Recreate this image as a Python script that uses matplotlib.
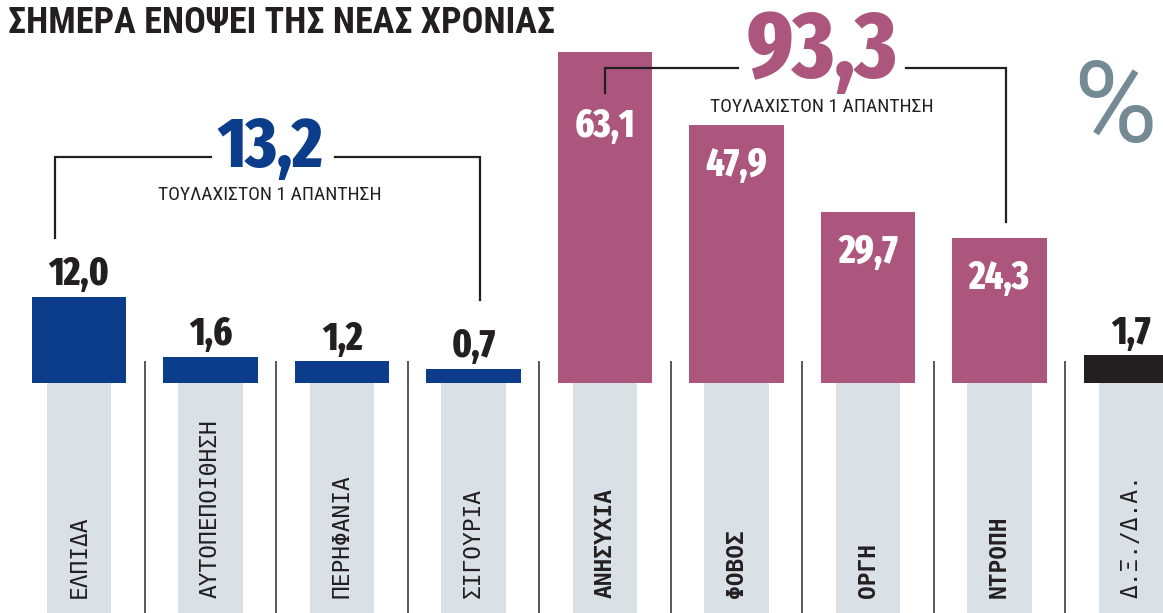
import numpy as np
import matplotlib.pyplot as plt

# ---- data -------------------------------------------------------------
categories = ["ΕΛΠΙΔΑ", "ΑΥΤΟΠΕΠΟΙΘΗΣΗ", "ΠΕΡΗΦΑΝΙΑ", "ΣΙΓΟΥΡΙΑ",
              "ΑΝΗΣΥΧΙΑ", "ΦΟΒΟΣ", "ΟΡΓΗ", "ΝΤΡΟΠΗ", "Δ.Ξ./Δ.Α."]
values = [12.0, 1.6, 1.2, 0.7, 63.1, 47.9, 29.7, 24.3, 1.7]
groups = ["positive"] * 4 + ["negative"] * 4 + ["dk"]
group_totals = {"positive": 13.2, "negative": 93.3}
total_caption = "ΤΟΥΛΑΧΙΣΤΟΝ 1 ΑΠΑΝΤΗΣΗ"
title = "ΣΗΜΕΡΑ ΕΝΟΨΕΙ ΤΗΣ ΝΕΑΣ ΧΡΟΝΙΑΣ"

# ---- style ------------------------------------------------------------
COLORS = {"positive": "#0b3d8a", "negative": "#ad567d", "dk": "#231f20"}
STRIP = "#d9e0e6"
INK = "#231f20"
COND = ["Roboto Condensed", "DejaVu Sans"]
NUMS = ["Fira Sans Extra Condensed", "Roboto Condensed", "DejaVu Sans"]
MONO = ["DejaVu Sans Mono", "DejaVu Sans"]


def fmt(v):
    return f"{v:.1f}".replace(".", ",")


# the printed bars are not strictly proportional: small bars get a little
# padding. mimic that with a soft-offset function scale
def fwd(v):
    v = np.asarray(v, dtype=float)
    return np.where(v > 0, v + 6 * (1 - np.exp(-np.clip(v, 0, None) / 1.5)), 5 * v)


_grid = np.linspace(-10, 300, 8000)


def inv(y):
    return np.interp(y, fwd(_grid), _grid)


W, H = 1163, 613
BASE = 383  # baseline, pixels from top
fig = plt.figure(figsize=(W / 100, H / 100), dpi=100)
ax = fig.add_axes([0, (H - BASE) / H, 1, BASE / H])
axb = fig.add_axes([0, 0, 1, (H - BASE) / H])

x = np.arange(len(categories))
xlim = (-79 / 131.5, (W - 79) / 131.5)
for a in (ax, axb):
    a.set_xlim(*xlim)
    a.axis("off")

ax.set_yscale("function", functions=(fwd, inv))
ax.set_ylim(0, 74.0)
axb.set_ylim(0, 1)

bar_colors = [COLORS[g] for g in groups]
ax.bar(x, values, width=0.715, color=bar_colors, zorder=2)

# label strips and separators below the baseline
axb.bar(x, 1, width=0.487, color=STRIP, zorder=1)
for i in range(len(categories) - 1):
    axb.axvline(i + 0.5, color="#3a3a3a", lw=1.2)
tr = ax.get_xaxis_transform()
ax.vlines(x[:-1] + 0.5, 0, 22 / BASE, transform=tr, color="#3a3a3a", lw=1.2)

for i, (cat, g) in enumerate(zip(categories, groups)):
    axb.text(i, 0.065, cat, rotation=90, ha="center", va="bottom",
             family=MONO, fontsize=16.5,
             fontweight="bold" if g == "negative" else "normal", color=INK)

# value labels
first_neg = groups.index("negative")
for i, (v, g) in enumerate(zip(values, groups)):
    if g == "negative":
        # first bar sits under the bracket leg, so its label is pushed down
        off = -39 if i == first_neg else -15
        ax.annotate(fmt(v), (i, v), xytext=(0, off), textcoords="offset points",
                    ha="center", va="top", color="white", family=NUMS,
                    fontweight="heavy", fontsize=28, zorder=4)
    else:
        ax.annotate(fmt(v), (i, v), xytext=(0, 8.5), textcoords="offset points",
                    ha="center", va="baseline", color=INK, family=NUMS,
                    fontweight="heavy", fontsize=28, zorder=4)


def frac(ypx):
    return (BASE - ypx) / BASE


def bracket(x0, x1, y_top, y0_end, y1_end, gap, xc, total, color,
            num_base, num_size, cap_base):
    ax.plot([x0, x0, gap[0]], [frac(y0_end), frac(y_top), frac(y_top)],
            transform=tr, color=INK, lw=1.6, zorder=3, solid_joinstyle="miter")
    ax.plot([gap[1], x1, x1], [frac(y_top), frac(y_top), frac(y1_end)],
            transform=tr, color=INK, lw=1.6, zorder=3, solid_joinstyle="miter")
    ax.text(xc, frac(num_base), fmt(total), transform=tr, ha="center",
            va="baseline", color=color, family=NUMS, fontweight="heavy",
            fontsize=num_size, zorder=4)
    ax.text(xc, frac(cap_base), total_caption, transform=tr, ha="center",
            va="baseline", color=INK, family=COND, fontsize=14, zorder=4)


bracket(-0.18, 3.05, 157, 238, 300, (1.0, 1.95), 1.45,
        group_totals["positive"], COLORS["positive"], 167, 51, 200)
bracket(4.0, 7.05, 68, 93, 222, (5.01, 6.29), 5.65,
        group_totals["negative"], COLORS["negative"], 77, 68, 112)

fig.text(8 / W, 1 - 33 / H, title, ha="left", va="baseline", color=INK,
         family=COND, fontweight="bold", fontsize=26)
fig.text(1115 / W, 1 - 142 / H, "%", ha="center", va="baseline",
         color="#748b96", family=["Roboto", "DejaVu Sans"], fontweight="normal",
         fontsize=82)

fig.savefig("out.png", dpi=100)
